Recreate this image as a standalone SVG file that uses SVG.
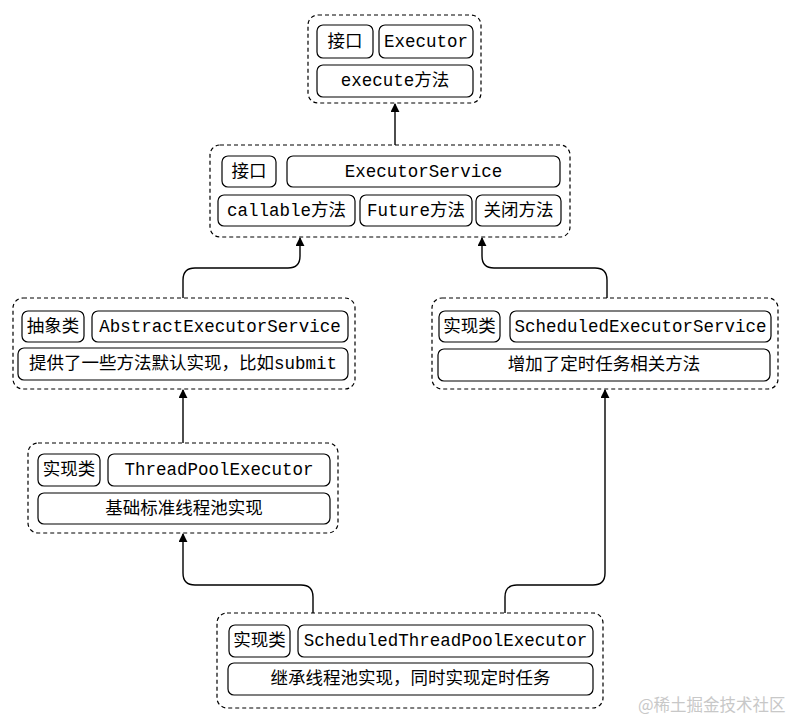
<svg xmlns="http://www.w3.org/2000/svg" width="793" height="720" viewBox="0 0 793 720">
<defs>
<style>
.grp{fill:#fff;stroke:#000;stroke-width:1.2;stroke-dasharray:4 3}
.box{fill:#fff;stroke:#000;stroke-width:1.2}
.t{font-family:"Liberation Mono","Noto Sans CJK SC",monospace;font-size:17.5px;fill:#000;text-anchor:middle;dominant-baseline:central}
.c{fill:none;stroke:#000;stroke-width:1.4}
.wm{font-family:"Noto Sans CJK SC",sans-serif;font-size:16.5px;fill:#c8c8c8}
</style>
<marker id="arr" viewBox="0 0 10 10" refX="9" refY="5" markerWidth="9" markerHeight="9" markerUnits="userSpaceOnUse" orient="auto">
<path d="M0,0 L10,5 L0,10 Z" fill="#000"/>
</marker>
</defs>
<rect width="793" height="720" fill="#fff"/>
<g id="connectors">
<path class="c" d="M395,145 V104" marker-end="url(#arr)"/>
<path class="c" d="M183,298 V280 Q183,268 195,268 H288 Q300,268 300,256 V238" marker-end="url(#arr)"/>
<path class="c" d="M607,298 V280 Q607,268 595,268 H494 Q482,268 482,256 V238" marker-end="url(#arr)"/>
<path class="c" d="M183,443 V390" marker-end="url(#arr)"/>
<path class="c" d="M313,613 V597 Q313,585 301,585 H195 Q183,585 183,573 V534" marker-end="url(#arr)"/>
<path class="c" d="M505,613 V597 Q505,585 517,585 H593 Q605,585 605,573 V390" marker-end="url(#arr)"/>
</g>
<g id="executor">
<rect class="grp" x="308" y="15" width="173" height="88" rx="10"/>
<rect class="box" x="317" y="25" width="56" height="33" rx="6"/>
<text class="t" x="345" y="42">接口</text>
<rect class="box" x="379" y="25" width="94" height="33" rx="6"/>
<text class="t" x="426" y="42">Executor</text>
<rect class="box" x="317" y="65" width="156" height="32" rx="6"/>
<text class="t" x="395" y="81">execute方法</text>
</g>
<g id="executorService">
<rect class="grp" x="210" y="145" width="360" height="92" rx="10"/>
<rect class="box" x="222" y="156" width="54" height="31" rx="6"/>
<text class="t" x="249" y="171.5">接口</text>
<rect class="box" x="287" y="156" width="273" height="31" rx="6"/>
<text class="t" x="423.5" y="171.5">ExecutorService</text>
<rect class="box" x="218" y="195" width="137" height="31" rx="6"/>
<text class="t" x="286.5" y="210.5">callable方法</text>
<rect class="box" x="360" y="195" width="112" height="31" rx="6"/>
<text class="t" x="416" y="210.5">Future方法</text>
<rect class="box" x="476" y="195" width="85" height="31" rx="6"/>
<text class="t" x="518.5" y="210.5">关闭方法</text>
</g>
<g id="abstractExecutorService">
<rect class="grp" x="13" y="298" width="342" height="91" rx="10"/>
<rect class="box" x="22" y="311" width="62" height="31" rx="6"/>
<text class="t" x="53" y="326.5">抽象类</text>
<rect class="box" x="92" y="311" width="256" height="31" rx="6"/>
<text class="t" x="220" y="326.5">AbstractExecutorService</text>
<rect class="box" x="18" y="348" width="330" height="32" rx="6"/>
<text class="t" x="183" y="364">提供了一些方法默认实现，比如submit</text>
</g>
<g id="scheduledExecutorService">
<rect class="grp" x="432" y="298" width="346" height="91" rx="10"/>
<rect class="box" x="439" y="311" width="61" height="31" rx="6"/>
<text class="t" x="469.5" y="326.5">实现类</text>
<rect class="box" x="510" y="311" width="261" height="31" rx="6"/>
<text class="t" x="640.5" y="326.5">ScheduledExecutorService</text>
<rect class="box" x="438" y="349" width="332" height="32" rx="6"/>
<text class="t" x="604" y="365">增加了定时任务相关方法</text>
</g>
<g id="threadPoolExecutor">
<rect class="grp" x="28" y="443" width="310" height="90" rx="10"/>
<rect class="box" x="38" y="454" width="62" height="32" rx="6"/>
<text class="t" x="69" y="470">实现类</text>
<rect class="box" x="108" y="454" width="222" height="32" rx="6"/>
<text class="t" x="219" y="470">ThreadPoolExecutor</text>
<rect class="box" x="38" y="493" width="292" height="31" rx="6"/>
<text class="t" x="184" y="508.5">基础标准线程池实现</text>
</g>
<g id="scheduledThreadPoolExecutor">
<rect class="grp" x="217" y="613" width="386" height="95" rx="10"/>
<rect class="box" x="229" y="625" width="61" height="32" rx="6"/>
<text class="t" x="259.5" y="641">实现类</text>
<rect class="box" x="298" y="625" width="295" height="32" rx="6"/>
<text class="t" x="445.5" y="641">ScheduledThreadPoolExecutor</text>
<rect class="box" x="228" y="663" width="365" height="32" rx="6"/>
<text class="t" x="410.5" y="679">继承线程池实现，同时实现定时任务</text>
</g>
<text class="wm" x="638" y="711">@稀土掘金技术社区</text>
</svg>
